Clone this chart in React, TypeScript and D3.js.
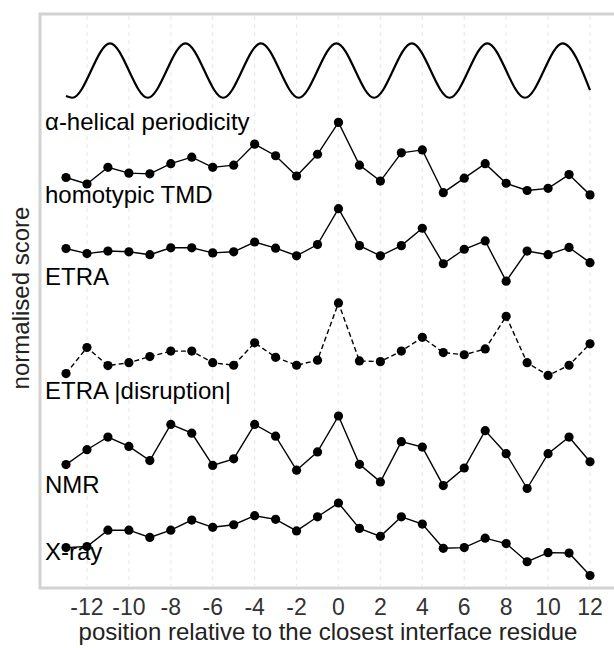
import React, { useEffect, useRef } from 'react'
import * as d3 from 'd3'

// residue positions relative to the closest interface residue
const positions = [-13, -12, -11, -10, -9, -8, -7, -6, -5, -4, -3, -2, -1, 0, 1, 2, 3, 4, 5, 6, 7, 8, 9, 10, 11, 12]
const tickValues = [-12, -10, -8, -6, -4, -2, 0, 2, 4, 6, 8, 10, 12]

// alpha-helical periodicity: turning points of the wave
const helixX = [-13, -12.7, -10.9, -9.1, -7.3, -5.5, -3.7, -1.9, -0.1, 1.7, 3.5, 5.3, 7.1, 8.9, 10.7, 12]
const helixY = [0.03, 0, 1, 0, 1, 0, 1, 0, 1, 0, 1, 0, 1, 0, 1, 0.14]

// normalised scores
const homotypicTMD = [0.24, 0.15, 0.38, 0.3, 0.29, 0.43, 0.52, 0.38, 0.41, 0.7, 0.54, 0.26, 0.56, 1.0, 0.41, 0.19, 0.58, 0.62, 0.03, 0.23, 0.43, 0.16, 0.06, 0.09, 0.28, 0.0]
const etra = [0.45, 0.38, 0.415, 0.405, 0.365, 0.46, 0.46, 0.39, 0.405, 0.54, 0.455, 0.35, 0.505, 1.0, 0.49, 0.35, 0.49, 0.73, 0.24, 0.44, 0.555, 0.0, 0.415, 0.365, 0.465, 0.255]
const etraDisruption = [0.025, 0.385, 0.135, 0.175, 0.26, 0.335, 0.335, 0.175, 0.14, 0.45, 0.25, 0.14, 0.21, 1.0, 0.2, 0.19, 0.335, 0.525, 0.315, 0.285, 0.365, 0.815, 0.175, 0.0, 0.14, 0.435]
const nmr = [0.33, 0.535, 0.71, 0.58, 0.385, 0.884, 0.763, 0.318, 0.409, 0.884, 0.722, 0.253, 0.505, 1.0, 0.333, 0.091, 0.646, 0.571, 0.04, 0.283, 0.798, 0.48, 0.0, 0.48, 0.71, 0.369]
const xray = [0.385, 0.4, 0.625, 0.625, 0.525, 0.625, 0.765, 0.665, 0.7, 0.825, 0.775, 0.615, 0.81, 1.0, 0.65, 0.54, 0.81, 0.71, 0.375, 0.385, 0.515, 0.44, 0.19, 0.315, 0.31, 0.0]

const labels = ['α-helical periodicity', 'homotypic TMD', 'ETRA', 'ETRA |disruption|', 'NMR', 'X-ray']

// layout of the stacked tracks (in score units on the y scale)
const trackOffset = [6.59, 5.25, 4.06, 2.76, 1.2, 0]
const trackHeight = [0.75, 1, 1, 1, 1, 1]
const labelBaseline = [130, 203, 285, 399, 493, 560]

const W = 614
const H = 648
const FONT = '"Liberation Sans", Arial, sans-serif'

export default function App() {
  const svgRef = useRef(null)

  useEffect(() => {
    const svg = d3.select(svgRef.current)
    svg.selectAll('*').remove()

    const panel = { left: 40, top: 14, right: 622, bottom: 588 }

    const x = d3.scaleLinear().domain([-13, 12]).range([66, 590])
    const y = d3.scaleLinear().domain([0, 7.5]).range([575.5, 31.75])

    // panel background + border
    svg.append('rect')
      .attr('x', panel.left)
      .attr('y', panel.top)
      .attr('width', panel.right - panel.left)
      .attr('height', panel.bottom - panel.top)
      .attr('fill', '#fff')
      .attr('stroke', '#d2d2d2')
      .attr('stroke-width', 3)

    // dashed vertical grid
    svg.append('g')
      .selectAll('line')
      .data(tickValues)
      .join('line')
      .attr('x1', d => x(d))
      .attr('x2', d => x(d))
      .attr('y1', panel.top + 2)
      .attr('y2', panel.bottom - 2)
      .attr('stroke', '#ececec')
      .attr('stroke-width', 1.2)
      .attr('stroke-dasharray', '4,4')

    // helix wave
    const helixLine = d3.line()
      .x(d => x(d[0]))
      .y(d => y(trackOffset[0] + d[1] * trackHeight[0]))
      .curve(d3.curveMonotoneX)

    svg.append('path')
      .datum(helixX.map((v, i) => [v, helixY[i]]))
      .attr('fill', 'none')
      .attr('stroke', '#000')
      .attr('stroke-width', 2.2)
      .attr('d', helixLine)

    const series = [homotypicTMD, etra, etraDisruption, nmr, xray]

    series.forEach((values, s) => {
      const t = s + 1
      const pts = values.map((v, i) => [positions[i], v])
      const line = d3.line()
        .x(d => x(d[0]))
        .y(d => y(trackOffset[t] + d[1] * trackHeight[t]))

      const g = svg.append('g')
      g.append('path')
        .datum(pts)
        .attr('fill', 'none')
        .attr('stroke', '#000')
        .attr('stroke-width', 1.4)
        .attr('stroke-dasharray', values === etraDisruption ? '5,3' : null)
        .attr('d', line)

      g.selectAll('circle')
        .data(pts)
        .join('circle')
        .attr('cx', d => x(d[0]))
        .attr('cy', d => y(trackOffset[t] + d[1] * trackHeight[t]))
        .attr('r', 4.6)
        .attr('fill', '#000')
    })

    // track labels
    svg.append('g')
      .selectAll('text')
      .data(labels)
      .join('text')
      .attr('x', 45)
      .attr('y', (d, i) => labelBaseline[i])
      .attr('font-family', FONT)
      .attr('font-size', 24)
      .attr('fill', '#000')
      .text(d => d)

    // x tick labels
    svg.append('g')
      .selectAll('text')
      .data(tickValues)
      .join('text')
      .attr('x', d => x(d))
      .attr('y', 615)
      .attr('text-anchor', 'middle')
      .attr('font-family', FONT)
      .attr('font-size', 23)
      .attr('fill', '#333')
      .text(d => d)

    svg.append('text')
      .attr('x', 328)
      .attr('y', 640)
      .attr('text-anchor', 'middle')
      .attr('font-family', FONT)
      .attr('font-size', 24)
      .attr('fill', '#222')
      .text('position relative to the closest interface residue')

    svg.append('text')
      .attr('transform', 'translate(29,298) rotate(-90)')
      .attr('text-anchor', 'middle')
      .attr('font-family', FONT)
      .attr('font-size', 24)
      .attr('fill', '#222')
      .text('normalised score')
  }, [])

  return (
    <svg
      ref={svgRef}
      width={W}
      height={H}
      style={{ position: 'absolute', left: 0, top: 0, background: '#fff' }}
    />
  )
}
